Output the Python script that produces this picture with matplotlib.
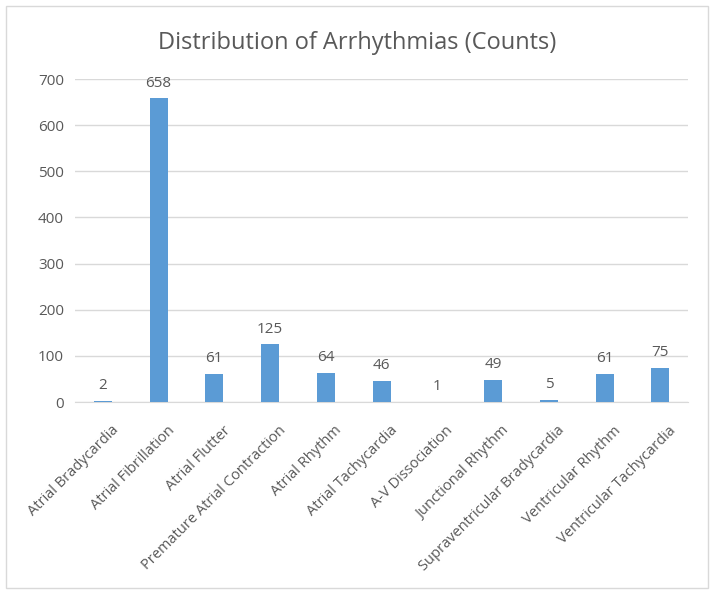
import matplotlib.pyplot as plt
from matplotlib.patches import Rectangle
from matplotlib.transforms import ScaledTranslation

categorias = ['Atrial Bradycardia', 'Atrial Fibrillation', 'Atrial Flutter',
              'Premature Atrial Contraction', 'Atrial Rhythm', 'Atrial Tachycardia',
              'A-V Dissociation', 'Junctional Rhythm', 'Supraventricular Bradycardia',
              'Ventricular Rhythm', 'Ventricular Tachycardia']
contagens = [2, 658, 61, 125, 64, 46, 1, 49, 5, 61, 75]
yticks = [0, 100, 200, 300, 400, 500, 600, 700]

plt.rcParams['font.family'] = ['Open Sans', 'DejaVu Sans']
cinza = '#595959'

fig = plt.figure(figsize=(7.14, 5.94), dpi=100)
ax = fig.add_axes([0.105, 0.323, 0.859, 0.544])

x = range(len(categorias))
ax.bar(x, contagens, width=0.32, color='#5B9BD5', zorder=3)
for xi, v in zip(x, contagens):
    ax.text(xi, v + 17, str(v), ha='center', va='bottom', fontsize=11, color=cinza)

ax.set_ylim(0, 700)
ax.set_xlim(-0.5, len(categorias) - 0.5)
ax.set_yticks(yticks)
ax.set_yticklabels([str(t) for t in yticks], fontsize=11, color=cinza)
ax.set_xticks(list(x))
ax.set_xticklabels(categorias, rotation=45, ha='right', rotation_mode='anchor',
                   fontsize=10.5, color=cinza)
ax.tick_params(axis='y', length=0, pad=8)
ax.tick_params(axis='x', length=0, pad=15)
# desloca os rótulos um pouco para a direita, como no Excel
desloc = ScaledTranslation(6 / 72, 0, fig.dpi_scale_trans)
for lbl in ax.get_xticklabels():
    lbl.set_transform(lbl.get_transform() + desloc)
ax.grid(axis='y', color='#D9D9D9', linewidth=1, zorder=0)
for s in ['top', 'right', 'left']:
    ax.spines[s].set_visible(False)
ax.spines['bottom'].set_color('#D9D9D9')

fig.text(0.5, 0.928, 'Distribution of Arrhythmias (Counts)', ha='center', va='center',
         fontsize=17, color=cinza)
fig.patches.append(Rectangle((0.008, 0.01), 0.984, 0.98, transform=fig.transFigure,
                             fill=False, edgecolor='#D9D9D9', linewidth=1))

plt.savefig('out.png', dpi=100)
